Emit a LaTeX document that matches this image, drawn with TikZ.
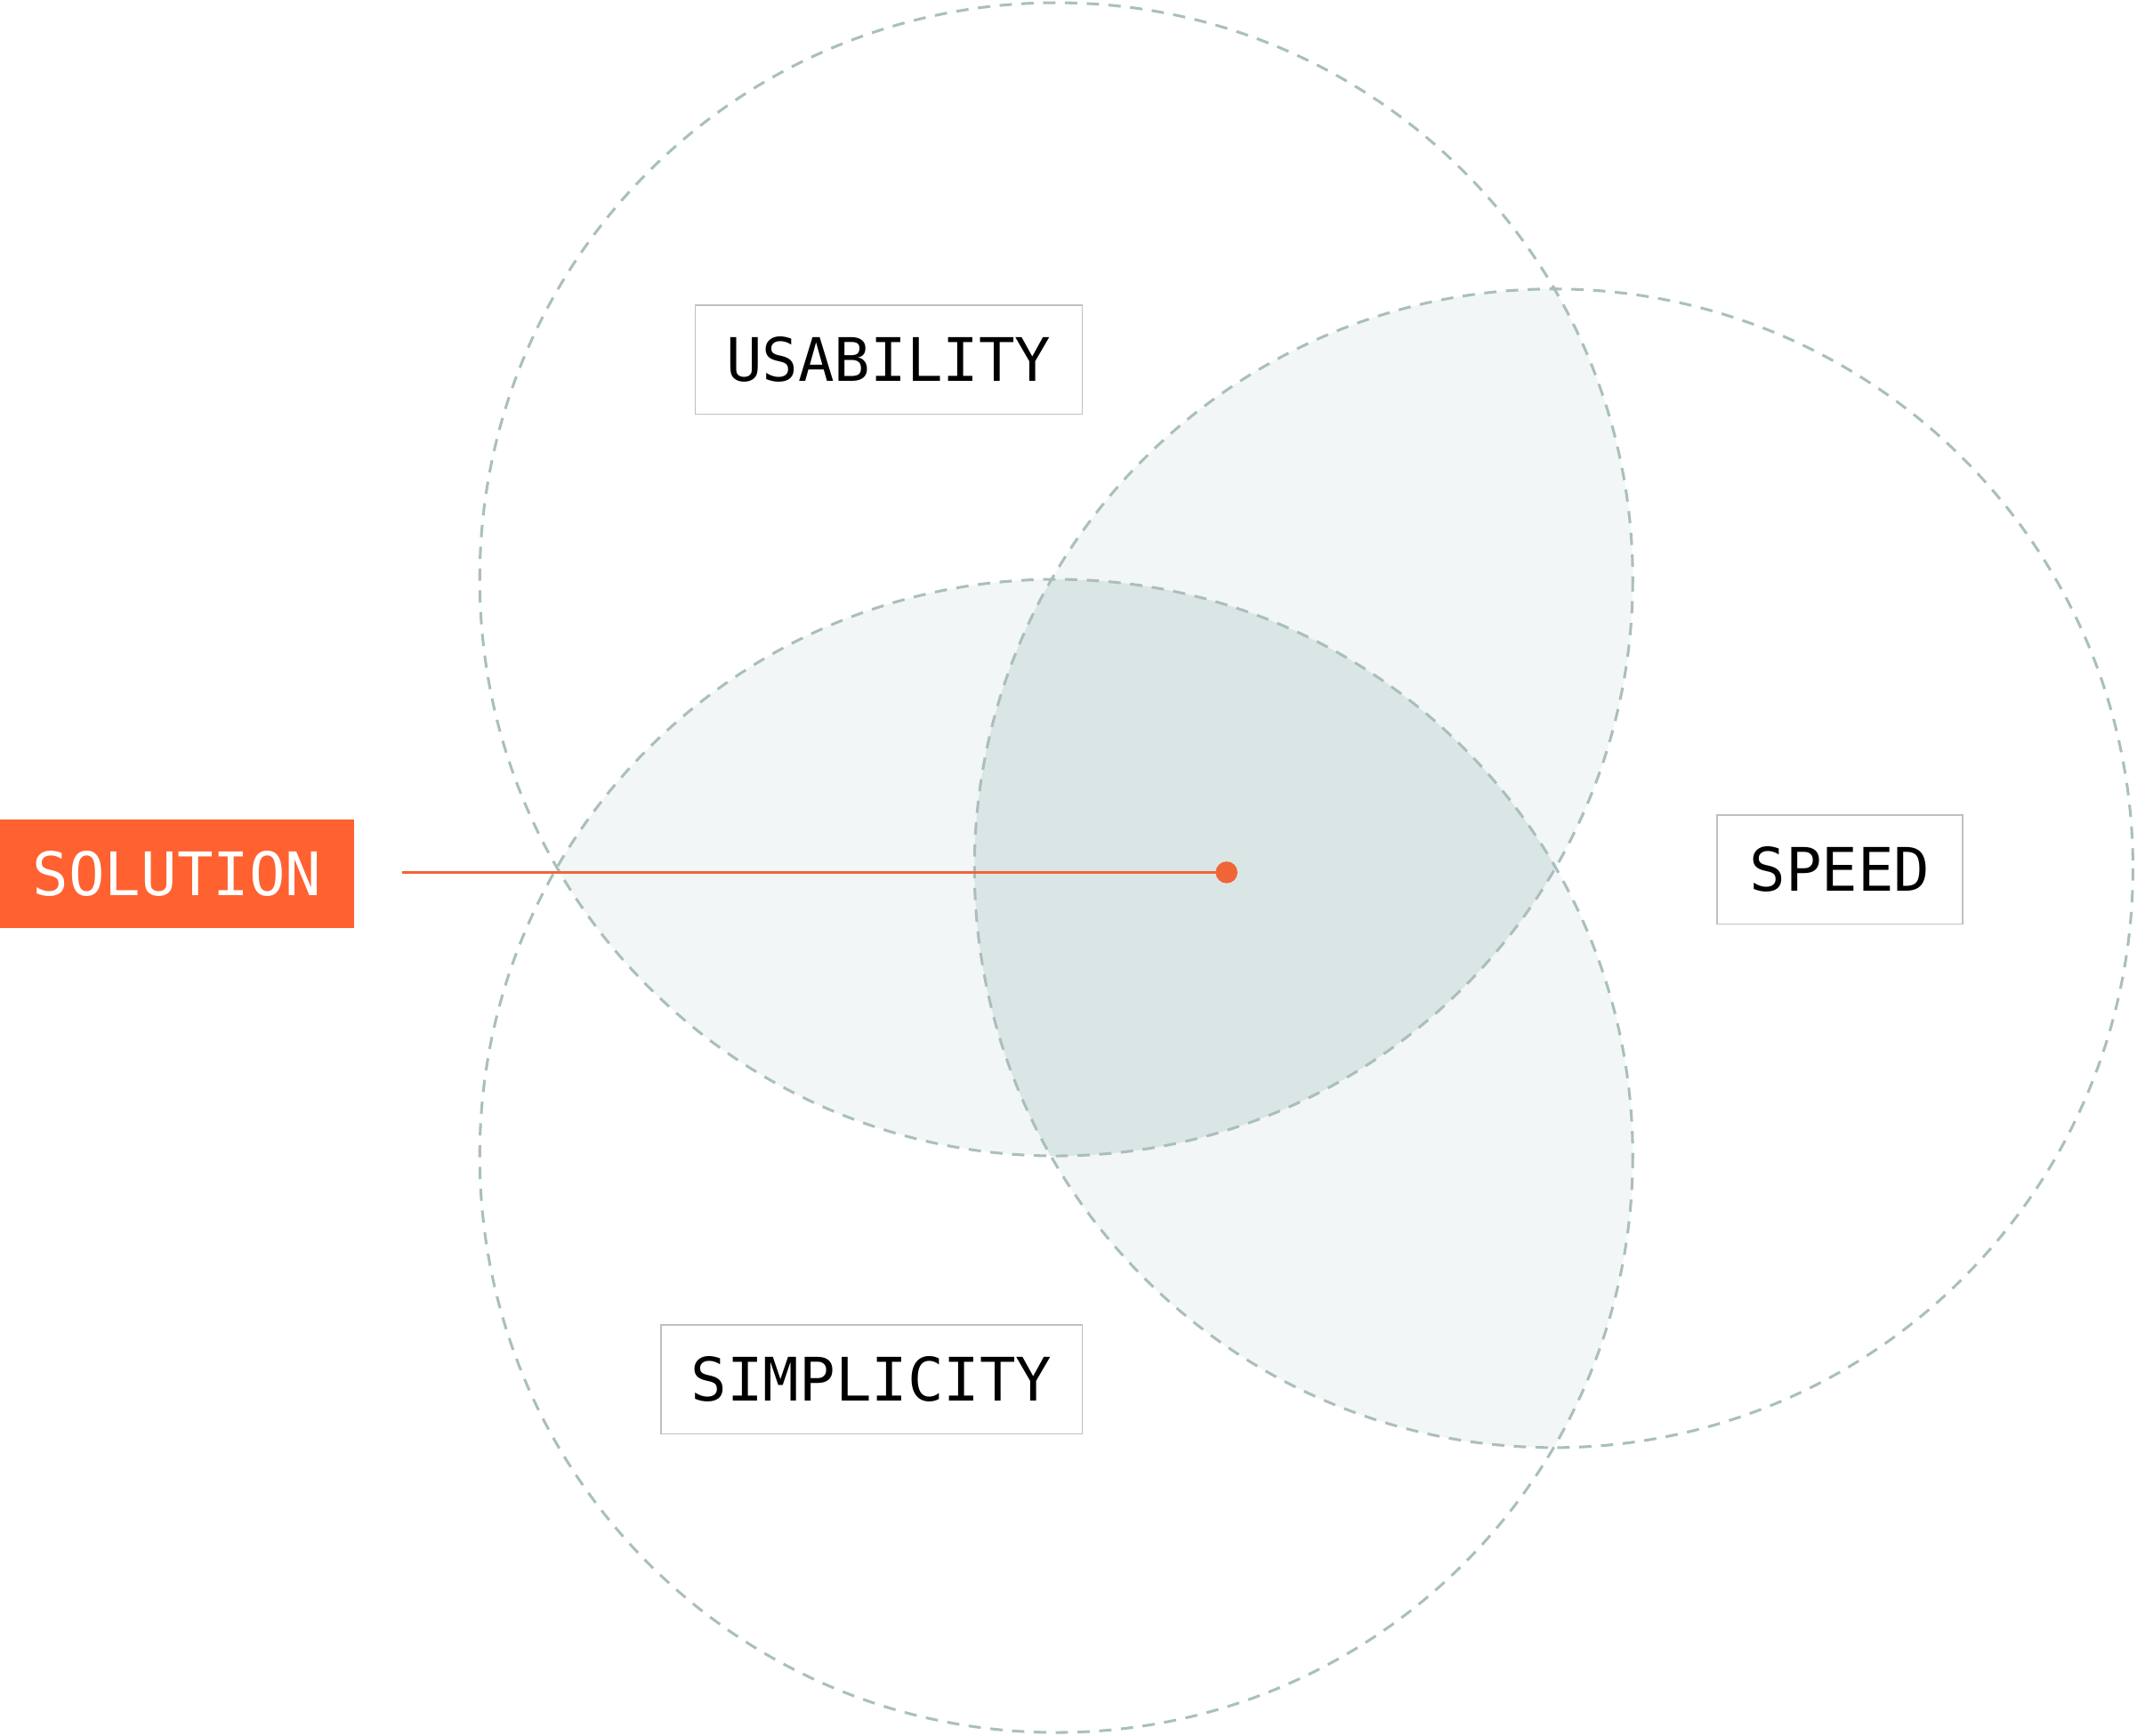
\documentclass[tikz,border=0pt]{standalone}
\usepackage{fontspec}
\newfontfamily\monof{DejaVu Sans Mono}
\definecolor{ring}{HTML}{AABFBC}
\definecolor{lite}{HTML}{F2F6F6}
\definecolor{dark}{HTML}{DAE6E5}
\definecolor{orng}{HTML}{FF6130}
\definecolor{oline}{HTML}{F06538}
\begin{document}
\begin{tikzpicture}[x=1pt,y=-1pt,
  ringst/.style={draw=ring,line width=2pt,dash pattern=on 9pt off 7pt},
  label/.style={draw=black!25,fill=white,line width=1pt,font=\monof\fontsize{44}{44}\selectfont,minimum height=80pt,inner xsep=22pt},
  sol/.style={fill=orng,text=white,font=\monof\fontsize{44}{44}\selectfont,minimum height=80pt,minimum width=260pt}]
\useasboundingbox (0,0) rectangle (1568,1273);
\def\CA{(775,425) circle (423)}
\def\CB{(1140,637) circle (425)}
\def\CC{(775,848) circle (423)}
\begin{scope}\clip \CA; \fill[lite] \CB; \end{scope}
\begin{scope}\clip \CA; \fill[lite] \CC; \end{scope}
\begin{scope}\clip \CB; \fill[lite] \CC; \end{scope}
\begin{scope}\clip \CA; \clip \CB; \fill[dark] \CC; \end{scope}
\draw[ringst] \CA; \draw[ringst] \CB; \draw[ringst] \CC;
\node[label,minimum width=284pt] (usab) at (652,264) {USABILITY};
\node[label,minimum width=180pt] (speed) at (1350,638) {SPEED};
\node[label,minimum width=309pt] (simp) at (639.5,1012) {SIMPLICITY};
\node[sol] (solution) at (130,641) {SOLUTION};
\coordinate (lstart) at (295,640);
\node[circle,fill=oline,inner sep=0pt,minimum size=16pt] (dot) at (900,640) {};
\draw[oline,line width=2.5pt] (lstart) -- (dot.center);
\end{tikzpicture}
\end{document}
